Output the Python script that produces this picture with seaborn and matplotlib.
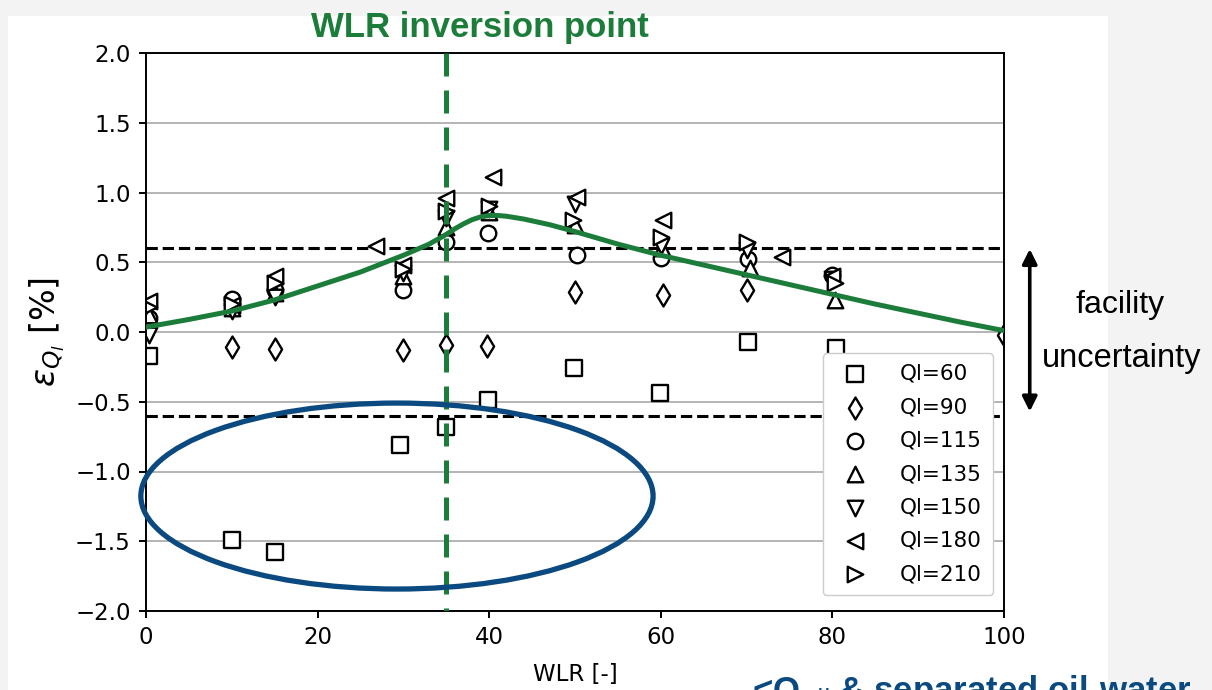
import matplotlib
matplotlib.use("Agg")
import matplotlib.pyplot as plt
from matplotlib.patches import Ellipse, Rectangle
import numpy as np
import pandas as pd
import seaborn as sns

# Measured relative error of the liquid flow rate versus water-liquid ratio
ql60_wlr = [0.3, 10, 15, 29.6, 35, 39.9, 49.9, 59.9, 70.2, 80.4]
ql60_err = [-0.17, -1.49, -1.58, -0.81, -0.68, -0.49, -0.26, -0.44, -0.07, -0.115]

ql90_wlr = [0.3, 10, 15, 30, 35, 39.7, 50, 60.2, 70, 100]
ql90_err = [0.02, -0.11, -0.12, -0.13, -0.09, -0.10, 0.29, 0.265, 0.30, -0.02]

ql115_wlr = [0.3, 10, 15, 30, 35, 39.9, 50.2, 60, 70.2, 80]
ql115_err = [0.10, 0.24, 0.30, 0.30, 0.645, 0.71, 0.55, 0.53, 0.52, 0.41]

ql135_wlr = [0.3, 10, 15, 30, 35, 40, 50, 60.1, 70.4, 80.3]
ql135_err = [0.12, 0.17, 0.28, 0.40, 0.75, 0.86, 0.77, 0.60, 0.46, 0.23]

ql150_wlr = [0.3, 10, 15, 30, 35, 40, 50, 60, 70, 80]
ql150_err = [-0.02, 0.15, 0.25, 0.42, 0.82, 0.88, 0.92, 0.62, 0.59, 0.38]

ql180_wlr = [0.3, 10, 15, 26.8, 30, 35, 40.4, 50.2, 60.3, 74.1, 80]
ql180_err = [0.22, 0.19, 0.40, 0.62, 0.48, 0.96, 1.11, 0.97, 0.80, 0.54, 0.40]

ql210_wlr = [0.3, 10, 15, 30, 35, 40, 49.8, 60, 70, 80.3]
ql210_err = [0.18, 0.20, 0.35, 0.45, 0.87, 0.90, 0.80, 0.68, 0.645, 0.35]

series_labels = ["Ql=60", "Ql=90", "Ql=115", "Ql=135", "Ql=150", "Ql=180", "Ql=210"]
series_markers = ["s", "d", "o", "^", "v", "<", ">"]

# Trend of the error across the WLR range
trend_wlr = [0, 5, 10, 15, 20, 25, 30, 33, 35, 36, 37, 38, 39, 40, 41, 42, 44, 47,
             50, 55, 60, 65, 70, 75, 80, 85, 90, 95, 100]
trend_err = [0.035, 0.09, 0.15, 0.23, 0.33, 0.43, 0.55, 0.63, 0.70, 0.74, 0.775, 0.805,
             0.825, 0.835, 0.835, 0.83, 0.81, 0.77, 0.72, 0.63, 0.55, 0.48, 0.41, 0.34,
             0.27, 0.20, 0.135, 0.07, 0.01]

inversion_wlr = 35
facility_band = 0.6
x_ticks = [0, 20, 40, 60, 80, 100]
y_ticks = [-2.0, -1.5, -1.0, -0.5, 0.0, 0.5, 1.0, 1.5, 2.0]

GREEN = "#1c7d3b"
BLUE = "#0b4a80"

sns.set_theme(style="white")
plt.rcParams["font.family"] = ["DejaVu Sans"]
plt.rcParams.update({"text.color": "black", "axes.labelcolor": "black",
                     "xtick.color": "black", "ytick.color": "black"})

W, H = 1212, 690
fig = plt.figure(figsize=(W / 100, H / 100), dpi=100, facecolor="#f3f3f3")
# white sheet behind the chart
fig.patches.append(Rectangle((8 / W, 0), (1108 - 8) / W, (H - 16) / H,
                             transform=fig.transFigure, facecolor="white",
                             edgecolor="none", zorder=-10))

ax = fig.add_axes([146 / W, (H - 611) / H, (1004 - 146) / W, (611 - 53) / H])
ax.set_facecolor("white")

ax.yaxis.grid(True, color="#b4b4b4", lw=1.4, zorder=0)
ax.xaxis.grid(False)
ax.set_axisbelow(True)

series = [
    (ql60_wlr, ql60_err), (ql90_wlr, ql90_err), (ql115_wlr, ql115_err),
    (ql135_wlr, ql135_err), (ql150_wlr, ql150_err), (ql180_wlr, ql180_err),
    (ql210_wlr, ql210_err),
]
for (xs, ys), lab, mk in zip(series, series_labels, series_markers):
    df = pd.DataFrame({"WLR": xs, "err": ys})
    sns.scatterplot(data=df, x="WLR", y="err", marker=mk, s=125,
                    facecolor="white", edgecolor="black", linewidth=1.7,
                    label=lab, ax=ax, zorder=2.5)

for yv in (facility_band, -facility_band):
    ax.axhline(yv, color="black", ls="--", lw=2.2, zorder=2)

trend_df = pd.DataFrame({"WLR": trend_wlr, "err": trend_err})
sns.lineplot(data=trend_df, x="WLR", y="err", color=GREEN, lw=3.6,
             sort=False, estimator=None, ax=ax, zorder=3, legend=False)

ax.plot([inversion_wlr, inversion_wlr], [2.0, -2.0], color=GREEN, lw=3.6,
        dashes=(4.6, 2.8), zorder=3.5)

ell = Ellipse((29.25, -1.176), 59.7, 1.333, fill=False, edgecolor=BLUE,
              lw=3.8, clip_on=False, zorder=4)
ax.add_patch(ell)

ax.set_xlim(0, 100)
ax.set_ylim(-2.0, 2.0)
ax.set_xticks(x_ticks)
ax.set_yticks(y_ticks)
ax.set_yticklabels([f"{v:.1f}".replace("-", "\u2212") for v in y_ticks])
ax.tick_params(axis="both", direction="out", length=5, width=1.4, labelsize=16.5,
               colors="black", pad=6, left=True, bottom=True)
for sp in ax.spines.values():
    sp.set_color("black")
    sp.set_linewidth(1.4)

ax.set_xlabel("WLR [-]", fontsize=16.5, labelpad=10)
ax.set_ylabel(r"$\varepsilon_{Q_l}$ [%]", fontsize=24, labelpad=6)

leg = ax.legend(loc="lower right", bbox_to_anchor=(0.987, 0.029), borderaxespad=0,
                fontsize=15.5, frameon=True, fancybox=True, edgecolor="#cccccc",
                framealpha=1.0, labelspacing=0.62, handletextpad=1.1, borderpad=0.5,
                markerscale=1.0)
leg.set_zorder(10)

# double-headed arrow spanning the facility uncertainty band
ax.annotate("", xy=(1.030, 0.595), xytext=(1.030, -0.57),
            xycoords=ax.get_yaxis_transform(), textcoords=ax.get_yaxis_transform(),
            arrowprops=dict(arrowstyle="<|-|>", color="black", lw=2.6,
                            mutation_scale=22, shrinkA=0, shrinkB=0),
            annotation_clip=False)

fig.text(1120 / W, 1 - 305 / H, "facility", ha="center", va="center",
         fontsize=23, family="Liberation Sans", color="black")
fig.text(1122 / W, 1 - 358 / H, "uncertainty", ha="center", va="center",
         fontsize=23.5, family="Liberation Sans", color="black")

fig.text(480 / W, 1 - 28 / H, "WLR inversion point", ha="center", va="center",
         fontsize=25, fontweight="bold", family="Liberation Sans", color=GREEN)

fig.text(752 / W, -11 / H, r"<Q$_{oil}$ & separated oil-water", ha="left",
         va="baseline", fontsize=25, fontweight="bold", family="Liberation Sans",
         color=BLUE)

fig.savefig("out.png", dpi=100, facecolor=fig.get_facecolor())
